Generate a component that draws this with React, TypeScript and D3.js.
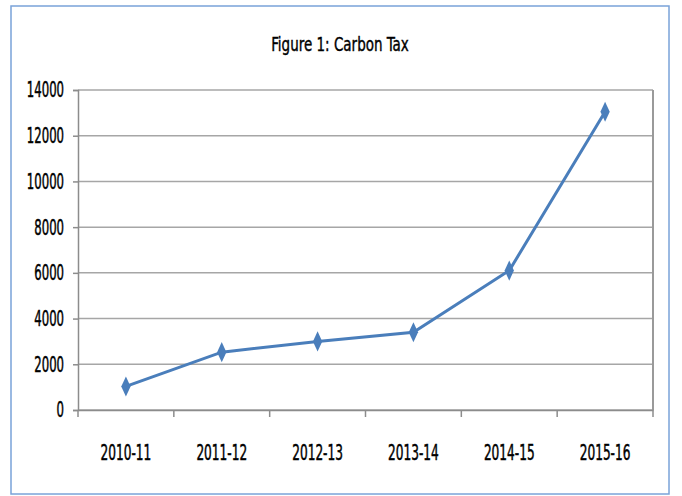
import { useEffect, useRef } from "react";
import * as d3 from "d3";

const categories = ["2010-11", "2011-12", "2012-13", "2013-14", "2014-15", "2015-16"];
const values = [1030, 2530, 3000, 3400, 6100, 13050];
const yTicks = [0, 2000, 4000, 6000, 8000, 10000, 12000, 14000];
const title = "Figure 1: Carbon Tax";

const width = 682;
const height = 496;
const margin = { top: 90, right: 29, bottom: 86, left: 78 };
const font = "'DejaVu Sans Condensed', 'Liberation Sans Narrow', sans-serif";

export default function App() {
  const svgRef = useRef<SVGSVGElement>(null);

  useEffect(() => {
    if (!svgRef.current) return;
    d3.select(svgRef.current).selectAll("*").remove();

    const innerWidth = width - margin.left - margin.right;
    const innerHeight = height - margin.top - margin.bottom;

    const svg = d3.select(svgRef.current);

    // outer frame
    svg
      .append("rect")
      .attr("x", 11)
      .attr("y", 6)
      .attr("width", 658)
      .attr("height", 488)
      .attr("fill", "#fff")
      .attr("stroke", "#7aa3d9")
      .attr("stroke-width", 1.5);

    // title (text in the picture is stretched vertically)
    svg
      .append("text")
      .attr("transform", "translate(340,51) scale(1,1.25)")
      .attr("text-anchor", "middle")
      .attr("font-family", font)
      .attr("font-size", 15)
      .attr("fill", "#000")
      .attr("stroke", "#000")
      .attr("stroke-width", 0.3)
      .text(title);

    const g = svg.append("g").attr("transform", `translate(${margin.left},${margin.top})`);

    const x = d3.scaleBand().domain(categories).range([0, innerWidth]);
    const y = d3.scaleLinear().domain([0, 14000]).range([innerHeight, 0]);

    // grid lines
    g.append("g")
      .selectAll("line")
      .data(yTicks)
      .enter()
      .append("line")
      .attr("x1", 0)
      .attr("x2", innerWidth)
      .attr("y1", (d) => y(d))
      .attr("y2", (d) => y(d))
      .attr("stroke", "#a6a6a6")
      .attr("stroke-width", 1.5);

    // right border of plot
    g.append("line")
      .attr("x1", innerWidth)
      .attr("x2", innerWidth)
      .attr("y1", 0)
      .attr("y2", innerHeight)
      .attr("stroke", "#9a9a9a")
      .attr("stroke-width", 2);

    // y axis
    const yAxis = g
      .append("g")
      .call(d3.axisLeft(y).tickValues(yTicks).tickSize(5).tickFormat(() => ""));
    yAxis.select(".domain").attr("stroke", "#8c8c8c").attr("stroke-width", 1.5);
    yAxis.selectAll(".tick line").attr("stroke", "#8c8c8c").attr("stroke-width", 1.5);

    g.append("g")
      .selectAll("text")
      .data(yTicks)
      .enter()
      .append("text")
      .attr("transform", (d) => `translate(-14,${y(d)}) scale(1,1.6)`)
      .attr("dy", "0.36em")
      .attr("text-anchor", "end")
      .attr("font-family", font)
      .attr("font-size", 13)
      .attr("fill", "#000")
      .attr("stroke", "#000")
      .attr("stroke-width", 0.3)
      .text((d) => `${d}`);

    // x axis
    const xAxis = g
      .append("g")
      .attr("transform", `translate(0,${innerHeight})`)
      .call(d3.axisBottom(x).tickSize(0).tickFormat(() => ""));
    xAxis.select(".domain").attr("stroke", "#8c8c8c").attr("stroke-width", 1.5);

    g.append("g")
      .selectAll("text")
      .data(categories)
      .enter()
      .append("text")
      .attr(
        "transform",
        (d) => `translate(${(x(d) as number) + x.bandwidth() / 2},${innerHeight + 50}) scale(1,1.6)`
      )
      .attr("text-anchor", "middle")
      .attr("font-family", font)
      .attr("font-size", 13.5)
      .attr("fill", "#000")
      .attr("stroke", "#000")
      .attr("stroke-width", 0.3)
      .text((d) => d);

    // category boundary ticks
    g.append("g")
      .selectAll("line")
      .data(categories.map((c) => x(c) as number).concat([innerWidth]))
      .enter()
      .append("line")
      .attr("x1", (d) => d)
      .attr("x2", (d) => d)
      .attr("y1", innerHeight)
      .attr("y2", innerHeight + 7)
      .attr("stroke", "#8c8c8c")
      .attr("stroke-width", 1.5);

    const pts = categories.map((c, i) => ({
      cx: (x(c) as number) + x.bandwidth() / 2,
      cy: y(values[i]),
    }));

    const line = d3
      .line<(typeof pts)[0]>()
      .x((d) => d.cx)
      .y((d) => d.cy);

    g.append("path")
      .datum(pts)
      .attr("fill", "none")
      .attr("stroke", "#4a7ebb")
      .attr("stroke-width", 3)
      .attr("d", line);

    g.selectAll(".dot")
      .data(pts)
      .enter()
      .append("path")
      .attr("class", "dot")
      .attr("transform", (d) => `translate(${d.cx},${d.cy}) scale(1,1.25)`)
      .attr("d", d3.symbol().type(d3.symbolDiamond).size(75)())
      .attr("fill", "#4a7ebb");
  }, []);

  return (
    <svg
      ref={svgRef}
      width={width}
      height={height}
      style={{ position: "absolute", left: 0, top: 0, background: "#fff" }}
    ></svg>
  );
}
